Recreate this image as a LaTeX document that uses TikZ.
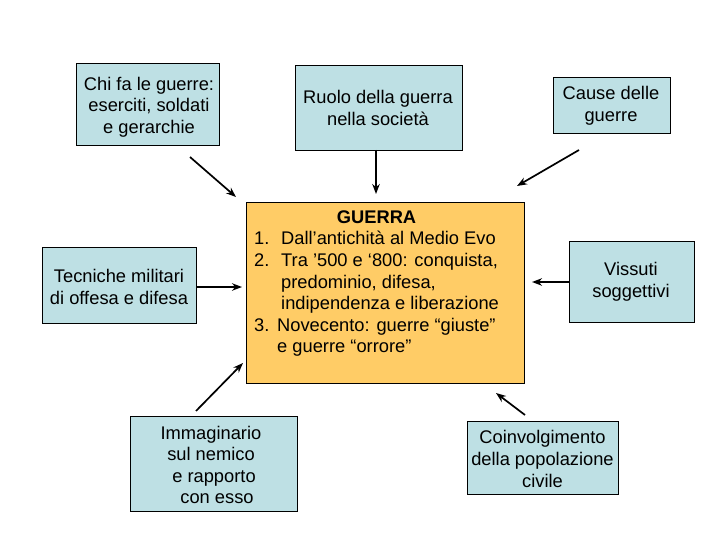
\documentclass[tikz,border=0pt]{standalone}
\usepackage{fontspec}
\usepackage{array}
\setmainfont{Liberation Sans}
\usetikzlibrary{arrows.meta}
\definecolor{lblue}{HTML}{BEE0E4}
\definecolor{lorange}{HTML}{FFCC66}
\tikzset{
  box/.style={draw=black, line width=0.8pt, fill=lblue, inner sep=0pt},
  txt/.style={align=center, inner sep=0pt, font=\fontsize{18.3}{21.6}\selectfont},
  arr/.style={line width=1.7pt, -{Stealth[length=10pt,width=7.5pt]}}
}
\begin{document}
\begin{tikzpicture}[x=1pt,y=-1pt]
\useasboundingbox (0,0) rectangle (720,540);
% boxes
\node[box, minimum width=143pt, minimum height=82pt] (chi) at (147.5,104) {};
\node[txt] (chit) at (149,107) {Chi fa le guerre:\\eserciti, soldati\\e gerarchie};
\node[box, minimum width=167pt, minimum height=85pt] (ruolo) at (378.5,107.5) {};
\node[txt] (ruolot) at (378,108) {Ruolo della guerra\\nella società};
\node[box, minimum width=117pt, minimum height=56pt] (cause) at (611.5,105) {};
\node[txt] (causet) at (611,106) {Cause delle\\guerre};
\node[box, fill=lorange, minimum width=278pt, minimum height=181pt] (guerra) at (385,292.5) {};
\node[txt, anchor=north west, align=left] (guerrat) at (254,208) {%
\setlength{\tabcolsep}{0pt}%
\begin{tabular}{@{}p{27pt}l@{}}
\multicolumn{2}{c}{\textbf{GUERRA}}\\
1. & Dall’antichità al Medio Evo\\
2. & Tra ’500 e ‘800: conquista,\\
   & predominio, difesa,\\
   & indipendenza e liberazione\\
3. & \hspace{-4pt}Novecento: guerre “giuste”\\
   & \hspace{-4pt}e guerre “orrore”
\end{tabular}};
\node[box, minimum width=154pt, minimum height=76pt] (tec) at (119,285) {};
\node[txt] (tect) at (119,287) {Tecniche militari\\di offesa e difesa};
\node[box, minimum width=125pt, minimum height=81pt] (vis) at (631.5,281.5) {};
\node[txt] (vist) at (631,281.5) {Vissuti\\soggettivi};
\node[box, minimum width=167pt, minimum height=95pt] (imm) at (213.5,463.5) {};
\node[txt] (immt) at (211,465) {Immaginario\\sul nemico\\\hspace{6pt}e rapporto\\\hspace{12pt}con esso};
\node[box, minimum width=151pt, minimum height=73pt] (coi) at (542.5,457.5) {};
\node[txt] (coit) at (542.5,459) {Coinvolgimento\\della popolazione\\civile};
% arrow endpoints
\coordinate (a1s) at (190,157); \coordinate (a1e) at (236,197);
\coordinate (a2s) at (376,150); \coordinate (a2e) at (376,194);
\coordinate (a3s) at (579,150); \coordinate (a3e) at (517,186);
\coordinate (a4s) at (196,287); \coordinate (a4e) at (242,287);
\coordinate (a5s) at (569,282); \coordinate (a5e) at (532,282);
\coordinate (a6s) at (196,411); \coordinate (a6e) at (243,363);
\coordinate (a7s) at (525,415); \coordinate (a7e) at (496,393);
\draw[arr] (a1s) -- (a1e);
\draw[arr] (a2s) -- (a2e);
\draw[arr] (a3s) -- (a3e);
\draw[arr] (a4s) -- (a4e);
\draw[arr] (a5s) -- (a5e);
\draw[arr] (a6s) -- (a6e);
\draw[arr] (a7s) -- (a7e);
\end{tikzpicture}
\end{document}
